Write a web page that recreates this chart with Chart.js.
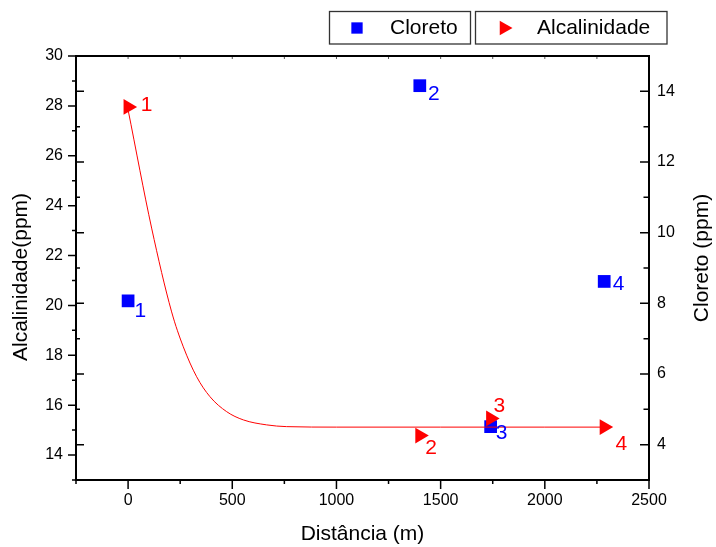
<!DOCTYPE html>
<html>
<head>
<meta charset="utf-8">
<script src="https://cdn.jsdelivr.net/npm/chart.js@4/dist/chart.umd.min.js"></script>
<style>
  html, body { margin: 0; padding: 0; background: #fff; }
  #wrap { position: relative; width: 716px; height: 547px; }
</style>
</head>
<body>
<div id="wrap"><canvas id="grafico"></canvas></div>
<script>
// sampling points along the stream (m)
const distancia = [0, 1400, 1740, 2285];
const cloreto = [8.07, 14.16, 4.51, 8.62];          // ppm, right axis
const alcalinidade = [27.96, 14.78, 15.47, 15.12];  // ppm, left axis
const pontos = ['1', '2', '3', '4'];

// decay fit drawn over the alcalinidade points
const ajusteX = [0, 113, 209, 265, 329, 393, 473, 553, 665, 761, 1000, 1500, 2000, 2285];
const ajusteY = [27.84, 23.1, 19.74, 18.34, 17.14, 16.34, 15.74, 15.41, 15.21, 15.14, 15.12, 15.12, 15.12, 15.12];

const xTicks = [0, 500, 1000, 1500, 2000, 2500];
const alcTicks = [14, 16, 18, 20, 22, 24, 26, 28, 30];
const clTicks = [4, 6, 8, 10, 12, 14];

const FONTE = "'Liberation Sans', Arial, sans-serif";
const AZUL = '#0000ff';
const VERMELHO = '#ff0000';

// where each number sits next to its marker (px)
const rotuloAlc = [[12.6, -1.4], [5.5, 13], [2.8, -12.4], [11.2, 17]];
const rotuloCl = [[6.3, 10.2], [8.2, 8.8], [5.2, 6.7], [8.5, 2.6]];

const eixos = {
  id: 'eixos',
  afterDatasetsDraw(chart) {
    const { ctx, chartArea: a, scales: { x, yAlc, yCl } } = chart;
    ctx.save();
    ctx.strokeStyle = '#000';
    ctx.lineWidth = 1.5;
    ctx.beginPath();
    // bottom ticks point down
    for (let v = x.min; v <= x.max; v += 250) {
      const px = x.getPixelForValue(v);
      const len = v % 500 === 0 ? 9 : 4;
      ctx.moveTo(px, a.bottom);
      ctx.lineTo(px, a.bottom + len);
    }
    // alcalinidade ticks point out of the left axis
    for (let v = yAlc.min; v <= yAlc.max; v++) {
      const py = yAlc.getPixelForValue(v);
      const len = v % 2 === 0 ? 8 : 4;
      ctx.moveTo(a.left - len, py);
      ctx.lineTo(a.left, py);
    }
    // cloreto ticks point inward on both sides
    for (let v = yCl.min; v <= yCl.max; v++) {
      const py = yCl.getPixelForValue(v);
      const maior = v % 2 === 0;
      ctx.moveTo(a.left, py);
      ctx.lineTo(a.left + (maior ? 8 : 4), py);
      ctx.moveTo(a.right, py);
      ctx.lineTo(a.right - (maior ? 9 : 5.5), py);
    }
    ctx.stroke();

    ctx.lineWidth = 1;
    ctx.strokeStyle = '#555';
    ctx.beginPath();
    for (let v = x.min + 250; v < x.max; v += 250) {
      const px = x.getPixelForValue(v);
      ctx.moveTo(px, a.top);
      ctx.lineTo(px, a.top + 3);
    }
    ctx.stroke();

    ctx.strokeStyle = '#000';
    ctx.lineWidth = 2;
    ctx.strokeRect(a.left, a.top, a.right - a.left, a.bottom - a.top);

    // y axis titles, both reading upwards
    ctx.fillStyle = '#000';
    ctx.font = '21px ' + FONTE;
    ctx.textAlign = 'center';
    ctx.textBaseline = 'middle';
    ctx.save();
    ctx.translate(21, 277);
    ctx.rotate(-Math.PI / 2);
    ctx.fillText('Alcalinidade(ppm)', 0, 0);
    ctx.restore();
    ctx.save();
    ctx.translate(702.5, 258);
    ctx.rotate(-Math.PI / 2);
    ctx.fillText('Cloreto (ppm)', 0, 0);
    ctx.restore();
    ctx.restore();
  }
};

const rotulos = {
  id: 'rotulos',
  afterDatasetsDraw(chart) {
    const ctx = chart.ctx;
    ctx.save();
    ctx.font = '21px ' + FONTE;
    ctx.textAlign = 'left';
    ctx.textBaseline = 'middle';
    [[0, rotuloAlc, VERMELHO], [2, rotuloCl, AZUL]].forEach(([ds, desl, cor]) => {
      ctx.fillStyle = cor;
      chart.getDatasetMeta(ds).data.forEach((el, i) => {
        ctx.fillText(pontos[i], el.x + desl[i][0], el.y + desl[i][1]);
      });
    });
    ctx.restore();
  }
};

const legenda = {
  id: 'legenda',
  afterDraw(chart) {
    const ctx = chart.ctx;
    const itens = [
      { ds: 2, caixa: [329.5, 11.5, 141, 32.5], mx: 357, r: 8, tx: 390 },
      { ds: 0, caixa: [475.5, 11.5, 191.5, 32.5], mx: 504, r: 8.5, tx: 537 }
    ];
    ctx.save();
    itens.forEach(it => {
      const d = chart.data.datasets[it.ds];
      ctx.strokeStyle = '#333';
      ctx.lineWidth = 1.3;
      ctx.strokeRect(...it.caixa);
      ctx.fillStyle = d.pointBackgroundColor;
      Chart.helpers.drawPoint(ctx, {
        pointStyle: d.pointStyle, rotation: d.pointRotation || 0,
        radius: it.r, borderWidth: 0
      }, it.mx, 28);
      ctx.fillStyle = '#000';
      ctx.font = '21px ' + FONTE;
      ctx.textAlign = 'left';
      ctx.textBaseline = 'middle';
      ctx.fillText(d.label, it.tx, 28);
    });
    ctx.restore();
  }
};

const fonteTicks = { family: FONTE, size: 16 };

new Chart(document.getElementById('grafico'), {
  data: {
    datasets: [
      {
        type: 'scatter',
        label: 'Alcalinidade',
        data: distancia.map((x, i) => ({ x, y: alcalinidade[i] })),
        yAxisID: 'yAlc',
        pointStyle: 'triangle',
        pointRotation: 90,
        pointRadius: 9,
        pointBackgroundColor: VERMELHO,
        pointBorderWidth: 0,
        order: 0
      },
      {
        type: 'line',
        label: 'ajuste',
        data: ajusteX.map((x, i) => ({ x, y: ajusteY[i] })),
        yAxisID: 'yAlc',
        borderColor: VERMELHO,
        borderWidth: 1,
        pointRadius: 0,
        fill: false,
        cubicInterpolationMode: 'monotone',
        order: 1
      },
      {
        type: 'scatter',
        label: 'Cloreto',
        data: distancia.map((x, i) => ({ x, y: cloreto[i] })),
        yAxisID: 'yCl',
        pointStyle: 'rect',
        pointRadius: 9,
        pointBackgroundColor: AZUL,
        pointBorderWidth: 0,
        order: 2
      }
    ]
  },
  options: {
    responsive: true,
    maintainAspectRatio: false,
    animation: false,
    layout: { padding: { top: 56 } },
    plugins: { legend: { display: false }, tooltip: { enabled: false } },
    scales: {
      x: {
        type: 'linear',
        min: -250,
        max: 2500,
        afterFit: s => { s.height = 67; },
        afterBuildTicks: s => { s.ticks = xTicks.map(value => ({ value })); },
        grid: { display: false, drawTicks: false },
        border: { display: false },
        ticks: { padding: 11, font: fonteTicks, color: '#000', autoSkip: false, maxRotation: 0, callback: v => String(v) },
        title: { display: true, text: 'Distância (m)', color: '#000', font: { family: FONTE, size: 21 }, padding: { top: 0, bottom: 0 } }
      },
      yAlc: {
        type: 'linear',
        position: 'left',
        min: 13,
        max: 30,
        afterFit: s => { s.width = 76; },
        afterBuildTicks: s => { s.ticks = alcTicks.map(value => ({ value })); },
        grid: { display: false, drawTicks: false },
        border: { display: false },
        ticks: { padding: 13, font: fonteTicks, color: '#000', callback: v => String(v) }
      },
      yCl: {
        type: 'linear',
        position: 'right',
        min: 3,
        max: 15,
        afterFit: s => { s.width = 67; },
        afterBuildTicks: s => { s.ticks = clTicks.map(value => ({ value })); },
        grid: { display: false, drawTicks: false },
        border: { display: false },
        ticks: { padding: 8, font: fonteTicks, color: '#000', callback: v => String(v) }
      }
    }
  },
  plugins: [eixos, rotulos, legenda]
});
</script>
</body>
</html>
